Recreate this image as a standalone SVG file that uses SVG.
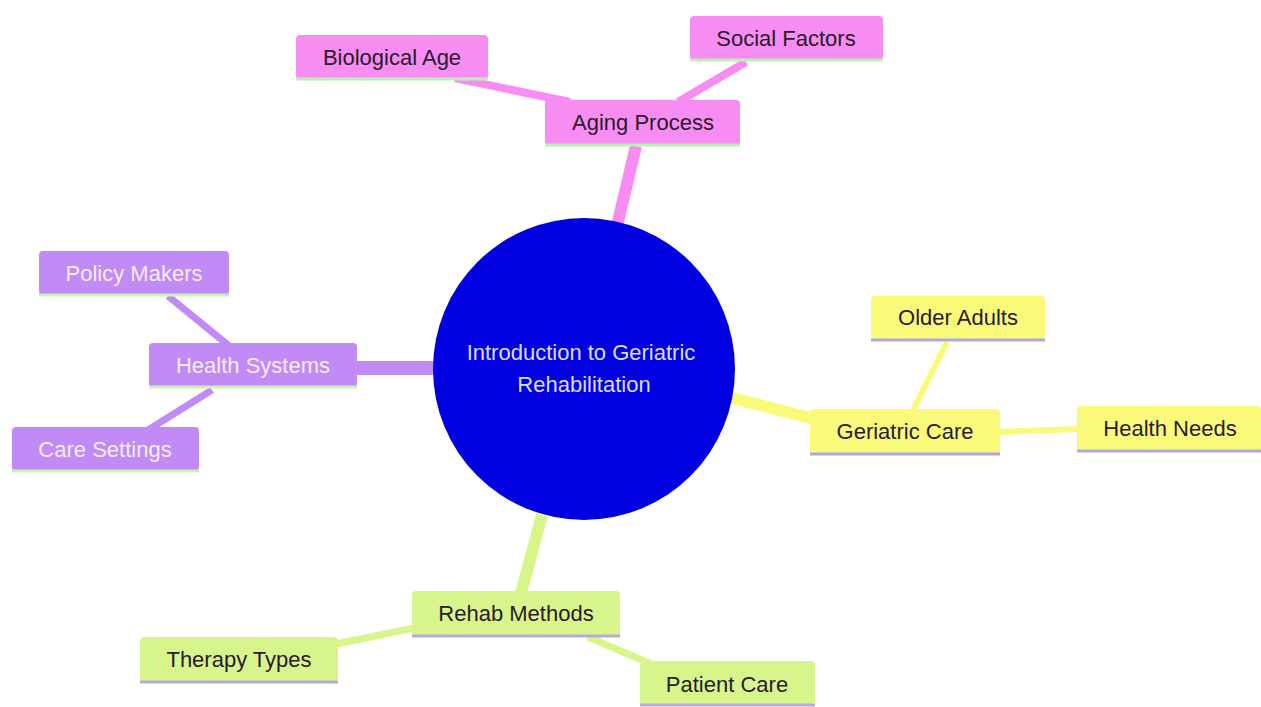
<svg xmlns="http://www.w3.org/2000/svg" width="1261" height="707" viewBox="0 0 1261 707">
<style>
  text { font-family: "Liberation Sans", Arial, sans-serif; font-size: 22px; text-anchor: middle; dominant-baseline: central; }
  .pink rect.box { fill: #f78cf2; }
  .purple rect.box { fill: #c28af5; }
  .yellow rect.box { fill: #fafa7a; }
  .green rect.box { fill: #d8f58c; }
  .pink .line { stroke: #b9f0b4; }
  .purple .line { stroke: #c9f2b8; }
  .yellow .line { stroke: #ada7e6; }
  .green .line { stroke: #b8aadd; }
  .line { stroke-width: 3; }
  .dark { fill: #2a1a2a; }
  .light { fill: #f4ecff; }
  .c-pink { stroke: #f78cf2; fill: none; }
  .c-purple { stroke: #c28af5; fill: none; }
  .c-yellow { stroke: #fafa7a; fill: none; }
  .c-green { stroke: #d8f58c; fill: none; }
</style>
<rect x="0" y="0" width="1261" height="707" fill="#ffffff"/>
<g id="connectors">
  <line class="c-pink" x1="617" y1="226" x2="636" y2="146" stroke-width="12"/>
  <line class="c-pink" x1="455" y1="78" x2="570" y2="102" stroke-width="8"/>
  <line class="c-pink" x1="746" y1="62" x2="678" y2="102" stroke-width="8"/>
  <line class="c-purple" x1="355" y1="368" x2="438" y2="368" stroke-width="14"/>
  <line class="c-purple" x1="168" y1="296" x2="228" y2="345" stroke-width="7"/>
  <line class="c-purple" x1="148" y1="430" x2="212" y2="390" stroke-width="7"/>
  <line class="c-yellow" x1="732" y1="398" x2="822" y2="421" stroke-width="12"/>
  <line class="c-yellow" x1="947" y1="342" x2="913" y2="410" stroke-width="6"/>
  <line class="c-yellow" x1="998" y1="432" x2="1079" y2="429" stroke-width="6"/>
  <line class="c-green" x1="542" y1="515" x2="521" y2="593" stroke-width="12"/>
  <line class="c-green" x1="414" y1="628" x2="336" y2="644" stroke-width="7"/>
  <line class="c-green" x1="588" y1="637" x2="656" y2="666" stroke-width="7"/>
</g>
<g id="root">
  <circle cx="584" cy="369" r="151" fill="#0000e0"/>
  <text x="581" y="352" fill="#dcdcff">Introduction to Geriatric</text>
  <text x="584" y="384" fill="#dcdcff">Rehabilitation</text>
</g>
<g id="aging-process" class="pink">
  <rect class="box" x="545" y="100" width="195" height="45" rx="4"/>
  <line class="line" x1="545" y1="145" x2="740" y2="145"/>
  <text class="dark" x="643" y="122">Aging Process</text>
</g>
<g id="biological-age" class="pink">
  <rect class="box" x="296" y="35" width="192" height="44" rx="4"/>
  <line class="line" x1="296" y1="79" x2="488" y2="79"/>
  <text class="dark" x="392" y="57">Biological Age</text>
</g>
<g id="social-factors" class="pink">
  <rect class="box" x="690" y="16" width="193" height="44" rx="4"/>
  <line class="line" x1="690" y1="60" x2="883" y2="60"/>
  <text class="dark" x="786" y="38">Social Factors</text>
</g>
<g id="health-systems" class="purple">
  <rect class="box" x="149" y="343" width="208" height="44" rx="4"/>
  <line class="line" x1="149" y1="387" x2="357" y2="387"/>
  <text class="light" x="253" y="365">Health Systems</text>
</g>
<g id="policy-makers" class="purple">
  <rect class="box" x="39" y="251" width="190" height="44" rx="4"/>
  <line class="line" x1="39" y1="295" x2="229" y2="295"/>
  <text class="light" x="134" y="273">Policy Makers</text>
</g>
<g id="care-settings" class="purple">
  <rect class="box" x="12" y="427" width="187" height="44" rx="4"/>
  <line class="line" x1="12" y1="471" x2="199" y2="471"/>
  <text class="light" x="105" y="449">Care Settings</text>
</g>
<g id="geriatric-care" class="yellow">
  <rect class="box" x="810" y="409" width="190" height="45" rx="4"/>
  <line class="line" x1="810" y1="454" x2="1000" y2="454"/>
  <text class="dark" x="905" y="431">Geriatric Care</text>
</g>
<g id="older-adults" class="yellow">
  <rect class="box" x="871" y="296" width="174" height="44" rx="4"/>
  <line class="line" x1="871" y1="340" x2="1045" y2="340"/>
  <text class="dark" x="958" y="317">Older Adults</text>
</g>
<g id="health-needs" class="yellow">
  <rect class="box" x="1077" y="406" width="184" height="45" rx="4"/>
  <line class="line" x1="1077" y1="451" x2="1261" y2="451"/>
  <text class="dark" x="1170" y="428">Health Needs</text>
</g>
<g id="rehab-methods" class="green">
  <rect class="box" x="412" y="591" width="208" height="45" rx="4"/>
  <line class="line" x1="412" y1="636" x2="620" y2="636"/>
  <text class="dark" x="516" y="613">Rehab Methods</text>
</g>
<g id="therapy-types" class="green">
  <rect class="box" x="140" y="637" width="198" height="45" rx="4"/>
  <line class="line" x1="140" y1="682" x2="338" y2="682"/>
  <text class="dark" x="239" y="659">Therapy Types</text>
</g>
<g id="patient-care" class="green">
  <rect class="box" x="640" y="661" width="175" height="44" rx="4"/>
  <line class="line" x1="640" y1="705" x2="815" y2="705"/>
  <text class="dark" x="727" y="684">Patient Care</text>
</g>
</svg>
